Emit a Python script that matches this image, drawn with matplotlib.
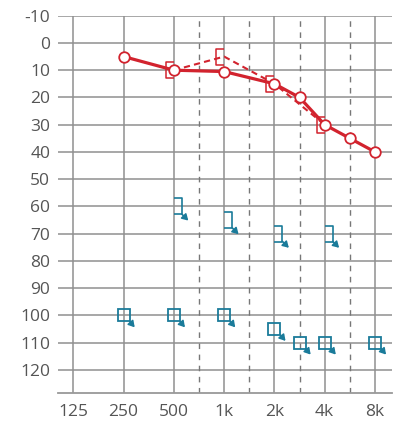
import matplotlib
matplotlib.use('Agg')
import numpy as np
import matplotlib.pyplot as plt
import matplotlib.transforms as mtransforms
from matplotlib.path import Path
from matplotlib.ticker import NullLocator

# ---- data ----
freq_ticks = [125, 250, 500, 1000, 2000, 4000, 8000]
freq_tick_labels = ['125', '250', '500', '1k', '2k', '4k', '8k']
mid_freqs = [750, 1500, 3000, 6000]
db_ticks = list(range(-10, 121, 10))

right_ac_freqs = [250, 500, 1000, 2000, 3000, 4000, 6000, 8000]
right_ac_db = [5, 10, 10.5, 15, 20, 30, 35, 40]

right_bc_freqs = [500, 1000, 2000, 4000]
right_bc_db = [10, 5, 15, 30]

left_bc_freqs = [500, 1000, 2000, 4000]
left_bc_db = [60, 65, 70, 70]

left_ac_freqs = [250, 500, 1000, 2000, 3000, 4000, 8000]
left_ac_db = [100, 100, 100, 105, 110, 110, 110]

# ---- audiogram frequency scale: octaves evenly spaced, inter-octave
#      frequencies placed halfway between octaves ----
_knot_f = np.array(sorted(freq_ticks + mid_freqs), dtype=float)
_knot_oct = np.log2(_knot_f / 125.0)
_knot_pos = np.array([0, 1, 2, 2.5, 3, 3.5, 4, 4.5, 5, 5.5, 6], dtype=float)
_oct_ext = np.concatenate([[-20.0], _knot_oct, [26.0]])
_pos_ext = np.concatenate([[-20.0], _knot_pos, [26.0]])


def fwd(f):
    f = np.asarray(f, dtype=float)
    o = np.log2(np.clip(f, 1e-12, None) / 125.0)
    return np.interp(o, _oct_ext, _pos_ext)


def inv(p):
    p = np.asarray(p, dtype=float)
    o = np.interp(p, _pos_ext, _oct_ext)
    return 125.0 * 2.0 ** o


# ---- style ----
RED = '#d2232e'
BLUE = '#1a7b9a'
GRID = '#8f8f8f'
TXT = '#555555'
plt.rcParams['font.family'] = ['Open Sans', 'DejaVu Sans']

fig = plt.figure(figsize=(4.0, 4.22), dpi=100)
ax = fig.add_axes([0.1458, 0.068, 0.8333, 0.8948])
ax.set_xscale('function', functions=(fwd, inv))
ax.set_xlim(125 * 2 ** -0.298, 8000 * 2 ** 0.332)
ax.set_ylim(128.6, -10)

# grid
for d in db_ticks:
    ax.axhline(d, color=GRID, lw=1.1, zorder=1)
for f in freq_ticks:
    ax.axvline(f, color=GRID, lw=1.1, zorder=1)
for f in mid_freqs:
    ax.axvline(f, color='#777777', lw=1.0, ls=(0, (4, 4)), zorder=1)

for s in ['top', 'right', 'left']:
    ax.spines[s].set_visible(False)
ax.spines['bottom'].set_color('#999999')
ax.spines['bottom'].set_linewidth(1.3)

ax.set_xticks(freq_ticks)
ax.set_xticklabels(freq_tick_labels)
ax.xaxis.set_minor_locator(NullLocator())
ax.set_yticks(db_ticks)
ax.set_yticklabels([str(d) for d in db_ticks])
ax.yaxis.set_minor_locator(NullLocator())
ax.tick_params(axis='both', length=0, labelsize=12.5, colors=TXT)
ax.tick_params(axis='y', pad=5.8)
ax.tick_params(axis='x', pad=8)

# markers
lbracket = Path([(0, 1), (-1, 1), (-1, -1), (0, -1)],
                [Path.MOVETO, Path.LINETO, Path.LINETO, Path.LINETO])
rbracket = Path([(0, 1), (1, 1), (1, -1), (0, -1)],
                [Path.MOVETO, Path.LINETO, Path.LINETO, Path.LINETO])

# right ear masked bone (dashed)
ax.plot(right_bc_freqs, right_bc_db, color=RED, lw=1.5, dashes=(3, 2), zorder=3)
ax.plot(right_bc_freqs, right_bc_db, ls='none', marker=lbracket, ms=11.5,
        mfc='none', mec=RED, mew=1.1, zorder=4)

# right ear air conduction
ax.plot(right_ac_freqs, right_ac_db, color=RED, lw=2.3, marker='o', ms=7.6,
        mfc='white', mec=RED, mew=1.3, zorder=5)


def arrow(f, db, start, end):
    t0 = mtransforms.offset_copy(ax.transData, fig=fig, x=start[0], y=start[1], units='points')
    t1 = mtransforms.offset_copy(ax.transData, fig=fig, x=end[0], y=end[1], units='points')
    ax.annotate('', xy=(f, db), xycoords=t1, xytext=(f, db), textcoords=t0,
                arrowprops=dict(arrowstyle='-|>,head_length=0.5,head_width=0.3',
                                color=BLUE, lw=1.2, shrinkA=0, shrinkB=0,
                                mutation_scale=7), zorder=6)


# left ear masked bone, no response
ax.plot(left_bc_freqs, left_bc_db, ls='none', marker=rbracket, ms=11.5,
        mfc='none', mec=BLUE, mew=1.2, zorder=4)
for f, d in zip(left_bc_freqs, left_bc_db):
    arrow(f, d, (5.8, -5.6), (10.4, -10.2))

# left ear masked air, no response
ax.plot(left_ac_freqs, left_ac_db, ls='none', marker='s', ms=8.8,
        mfc='none', mec=BLUE, mew=1.3, zorder=4)
for f, d in zip(left_ac_freqs, left_ac_db):
    arrow(f, d, (4.5, -4.5), (8.0, -8.6))

fig.savefig('out.png', dpi=100)
